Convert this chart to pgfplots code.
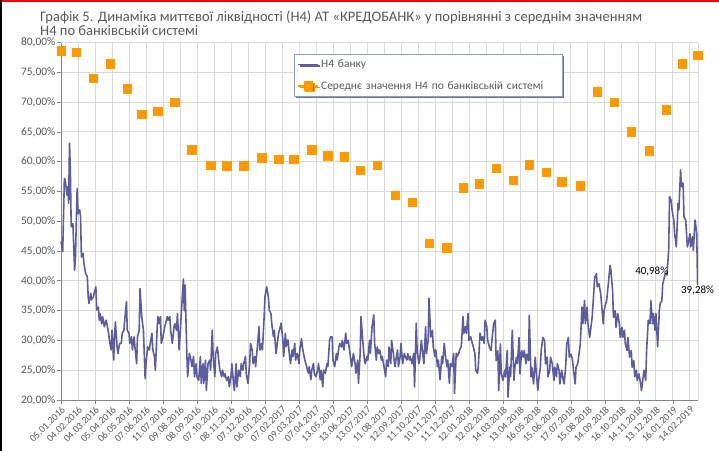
\documentclass[border=0pt]{standalone}
\usepackage{fontspec}
\setmainfont{Carlito}
\usepackage{pgfplots}
\pgfplotsset{compat=1.18}
\usetikzlibrary{shadows}

\definecolor{bankline}{RGB}{93,93,158}
\definecolor{orng}{RGB}{255,153,0}
\definecolor{gridcol}{RGB}{217,217,217}
\definecolor{axcol}{RGB}{134,134,134}
\definecolor{txtgray}{RGB}{89,89,89}
\definecolor{legborder}{RGB}{140,160,200}

\begin{document}
\begin{tikzpicture}
\useasboundingbox (0,0) rectangle (719bp,451bp);
\fill[white] (0,0) rectangle (719bp,451bp);
\fill[red] (0,448.7bp) rectangle (719bp,451bp);
\fill[black] (0,0) rectangle (1.7bp,451bp);
\node[anchor=west, inner sep=0, text=txtgray, font=\fontsize{14.6}{16}\selectfont] at (40bp,434bp)
  {Графік 5. Динаміка миттєвої ліквідності (Н4) АТ «КРЕДОБАНК» у порівнянні з середнім значенням};
\node[anchor=west, inner sep=0, text=txtgray, font=\fontsize{14.6}{16}\selectfont] at (40bp,420bp)
  {Н4 по банківській системі};

\begin{axis}[
  at={(61bp,51bp)}, anchor=south west,
  scale only axis, width=637bp, height=357.5bp,
  xmin=0, xmax=749.5, ymin=20, ymax=80,
  clip=false,
  axis x line*=bottom, axis y line*=left,
  axis line style={draw=axcol, line width=0.75bp},
  grid=major, major grid style={draw=gridcol, line width=0.9bp},
  tick align=outside, major tick length=4bp,
  ytick={20,25,...,80},
  yticklabels={{20,00\%},{25,00\%},{30,00\%},{35,00\%},{40,00\%},{45,00\%},{50,00\%},{55,00\%},{60,00\%},{65,00\%},{70,00\%},{75,00\%},{80,00\%}},
  ytick style={draw=axcol, line width=0.75bp},
  yticklabel style={font=\fontsize{11.5}{13}\selectfont, text=txtgray, inner sep=1.5bp},
  xtick={0,20,...,740},
  xticklabels={05.01.2016,04.02.2016,04.03.2016,05.04.2016,06.05.2016,07.06.2016,11.07.2016,09.08.2016,08.09.2016,07.10.2016,08.11.2016,07.12.2016,06.01.2017,07.02.2017,09.03.2017,07.04.2017,13.05.2017,13.06.2017,13.07.2017,11.08.2017,12.09.2017,11.10.2017,10.11.2017,11.12.2017,12.01.2018,12.02.2018,14.03.2018,13.04.2018,16.05.2018,15.06.2018,17.07.2018,15.08.2018,14.09.2018,16.10.2018,14.11.2018,13.12.2018,16.01.2019,14.02.2019},
  xtick style={draw=none},
  xticklabel style={rotate=45, anchor=north east, font=\fontsize{10}{11}\selectfont, text=txtgray, inner sep=1bp},
  extra x ticks={0,40,...,720},
  extra x tick labels={},
  extra x tick style={grid=none, xtick style={draw=axcol, line width=0.75bp}},
  legend cell align=left,
  legend style={at={(0.366,0.969)}, anchor=north west, draw=legborder, line width=0.9bp, fill=white,
    font=\fontsize{11.5}{13}\selectfont, text=txtgray, row sep=8bp, inner xsep=3bp, inner ysep=4bp,
    nodes={text width=236bp},
    drop shadow={shadow xshift=1.5bp, shadow yshift=-1.5bp, fill=black!55, opacity=1}},
]

% Н4 банку (daily)
\addplot[color=bankline, line width=1.6bp, line join=round,
  legend image code/.code={\draw[bankline, line width=1.6bp] (0bp,0bp) -- (20bp,0bp);}] coordinates {
(0,46.6)(2,44.9)(4,57.2)(5,56.9)(7,54.4)(8,55.8)(9,53.0)(10,63.1)(11,58.6)(12,49.1)(14,49.6)(16,41.8)(17,44.0)(19,55.5)(20,51.3)(22,51.9)(23,50.8)(24,44.0)(26,44.6)(27,42.9)(29,41.2)(31,40.7)(32,37.3)(33,36.2)(35,37.9)(36,36.8)(38,37.3)(39,37.9)(41,39.0)(42,35.1)(44,35.6)(45,33.4)(46,34.5)(48,32.8)(49,34.0)(51,32.3)(53,33.4)(54,32.8)(56,31.2)(57,30.0)(59,28.4)(60,31.7)(62,26.7)(63,30.6)(64,33.1)(66,28.9)(67,27.8)(69,29.5)(71,29.5)(72,31.2)(74,31.7)(75,33.4)(77,36.5)(78,31.7)(80,31.2)(81,29.5)(83,30.6)(84,28.4)(86,30.6)(87,28.9)(89,26.1)(90,30.6)(92,31.7)(93,38.7)(95,34.0)(96,32.8)(97,31.7)(99,23.6)(100,26.1)(102,28.9)(104,28.4)(105,29.5)(107,31.2)(108,28.4)(110,27.3)(111,25.0)(113,31.7)(114,34.0)(115,32.8)(117,34.0)(118,29.5)(120,30.6)(122,32.3)(123,32.8)(125,34.0)(126,33.4)(128,34.0)(129,31.7)(131,29.5)(133,32.3)(134,32.8)(136,31.7)(137,34.5)(139,28.4)(140,30.6)(142,35.6)(144,40.3)(145,35.0)(146,39.3)(148,28.0)(149,23.9)(151,27.8)(153,26.7)(154,25.6)(156,27.3)(157,23.9)(159,26.1)(160,23.9)(162,23.3)(164,27.3)(165,22.8)(167,26.1)(168,22.8)(170,26.7)(171,21.6)(173,26.1)(175,26.7)(176,25.0)(178,31.7)(179,27.3)(181,23.9)(182,27.8)(184,28.9)(186,26.1)(187,25.0)(189,23.9)(190,25.0)(192,23.9)(193,24.4)(195,23.3)(197,23.9)(198,22.2)(200,23.9)(201,26.1)(203,22.8)(204,21.6)(206,26.1)(207,22.2)(209,25.0)(211,23.9)(212,26.1)(214,25.0)(215,26.1)(217,27.3)(218,24.4)(220,22.8)(222,26.1)(223,29.5)(225,28.4)(226,26.1)(228,27.3)(229,25.6)(231,28.9)(233,32.3)(234,28.4)(236,29.5)(237,28.4)(239,34.0)(240,37.3)(242,39.0)(244,37.3)(245,35.1)(247,34.5)(248,32.8)(250,30.6)(251,31.7)
(253,27.8)(254,28.9)(256,31.2)(258,32.3)(259,32.9)(261,30.1)(262,27.3)(264,31.2)(265,29.0)(267,30.1)(269,27.3)(270,26.1)(272,28.4)(273,27.3)(275,29.5)(276,26.7)(278,27.8)(280,26.1)(281,28.4)(283,30.3)(284,28.9)(286,27.3)(287,26.7)(289,25.6)(291,24.5)(292,25.6)(294,23.4)(295,25.0)(297,26.1)(298,24.5)(300,23.9)(302,25.0)(303,26.1)(305,23.4)(306,25.0)(308,22.2)(309,25.0)(311,24.5)(313,26.1)(314,25.6)(316,30.0)(317,30.6)(319,30.6)(320,26.7)(322,25.6)(324,27.8)(325,26.7)(327,28.9)(328,29.5)(330,28.9)(331,30.0)(333,28.4)(335,31.2)(336,29.5)(338,30.0)(339,28.9)(341,26.7)(342,25.6)(344,27.8)(346,26.1)(347,24.5)(349,26.7)(350,22.8)(352,27.8)(353,34.0)(355,30.0)(357,26.7)(358,26.1)(360,27.3)(361,26.7)(363,30.0)(364,27.8)(366,32.3)(368,34.3)(369,29.5)(371,26.7)(372,28.9)(374,27.8)(375,28.4)(377,26.7)(378,27.3)(380,25.6)(382,23.9)(383,26.7)(385,25.6)(386,28.9)(388,26.1)(389,30.0)(391,27.8)(393,25.6)(394,26.7)(396,28.4)(397,25.6)(399,27.3)(400,29.5)(402,26.1)(404,27.8)(405,27.3)(407,26.7)(408,27.8)(410,26.7)(411,27.3)(413,26.1)(415,27.8)(416,22.2)(418,32.9)(419,28.4)(421,26.1)(422,26.7)(424,30.0)(426,27.3)(427,26.1)(429,32.3)(430,27.8)(432,30.0)(433,37.1)(435,30.6)(437,31.7)(438,28.9)(440,27.3)(441,28.4)(443,25.6)(444,26.7)(446,23.4)(448,27.3)(449,26.1)(451,29.5)(452,27.8)(454,25.6)(455,26.7)(457,22.8)(458,26.1)(460,25.6)(462,27.8)(463,21.1)(465,27.8)(466,27.3)(468,27.8)(469,28.4)(471,29.0)(473,34.0)(474,31.2)(476,32.3)(477,31.2)(479,34.5)(480,30.0)(482,30.6)(484,29.5)(485,29.0)(487,27.8)(488,25.0)(490,24.5)(491,25.6)(493,31.2)(495,30.0)(496,30.6)(498,29.5)(499,33.4)(501,32.3)(502,30.0)(504,28.9)
(506,28.3)(507,30.0)(509,32.8)(511,33.4)(512,26.6)(514,28.3)(515,21.6)(517,29.4)(518,24.4)(520,23.3)(522,25.0)(523,23.9)(525,28.3)(526,20.5)(528,25.5)(529,23.9)(531,31.7)(533,23.3)(534,25.5)(536,27.2)(537,26.1)(539,30.5)(540,24.4)(542,28.3)(544,27.2)(545,28.3)(547,26.1)(548,27.7)(550,26.6)(551,34.2)(553,23.9)(554,25.5)(556,22.7)(558,27.2)(559,25.0)(561,21.6)(562,23.3)(564,25.5)(565,28.3)(567,30.5)(569,30.0)(570,26.1)(572,27.2)(573,23.9)(575,25.0)(576,27.2)(578,26.1)(580,23.3)(581,25.5)(583,23.9)(584,26.1)(586,25.0)(587,22.7)(589,25.0)(591,23.3)(592,22.7)(594,26.1)(595,29.4)(597,30.5)(598,27.2)(600,27.7)(602,26.6)(603,25.0)(605,22.7)(606,25.5)(608,26.1)(609,27.2)(611,29.4)(613,35.6)(614,32.8)(616,36.7)(617,32.8)(619,35.6)(620,32.8)(622,30.5)(624,32.8)(625,33.9)(627,38.4)(628,40.6)(630,41.2)(631,39.0)(633,39.5)(635,37.8)(636,36.2)(638,32.8)(639,35.0)(641,36.2)(642,36.7)(644,39.5)(646,42.6)(647,41.8)(649,38.4)(650,33.9)(652,35.0)(653,32.2)(655,34.5)(657,32.8)(658,30.5)(660,32.2)(661,30.5)(663,31.7)(664,29.4)(666,28.3)(667,30.5)(669,27.2)(671,28.3)(672,25.5)(674,26.6)(675,23.9)(677,25.0)(678,23.3)(680,24.4)(682,22.7)(683,21.6)(685,23.9)(686,25.0)(688,23.3)(689,28.3)(691,33.4)(693,32.8)(694,36.7)(696,32.8)(697,34.5)(699,31.7)(700,34.5)(702,28.9)(704,35.0)(705,36.2)(707,36.7)(708,39.5)(710,40.6)(711,41.2)(713,40.98)(715,45.2)(716,54.1)(718,53.5)(719,51.9)(721,50.2)(722,47.9)(724,45.7)(726,53.0)(727,51.9)(729,58.6)(730,55.8)(732,56.4)(733,50.7)(735,50.2)(737,45.7)(738,46.3)(740,47.9)(741,45.7)(743,47.4)(744,45.1)(746,50.2)(747,49.1)(748,47.9)(749,39.28)
};
\addlegendentry{Н4 банку}

% Середнє значення Н4 по банківській системі (monthly)
\addplot[only marks, mark=square*, mark size=4.3bp, color=orng,
  legend image code/.code={\draw[orng, line width=1.6bp] (0bp,0bp) -- (20bp,0bp);
    \fill[orng] (5.7bp,-4.3bp) rectangle (14.3bp,4.3bp);}] coordinates {
(0,78.6)(18,78.4)(38,74.0)(58,76.4)(78,72.2)(95,68.0)(114,68.5)(134,70.0)(154,62.0)(176,59.4)(195,59.3)(215,59.3)(236,60.7)(256,60.4)(274,60.4)(295,62.0)(314,61.0)(333,60.8)(352,58.6)(372,59.4)(393,54.4)(413,53.2)(433,46.3)(454,45.6)(473,55.6)(492,56.3)(512,58.9)(532,56.9)(551,59.5)(571,58.2)(589,56.6)(611,56.0)(631,71.7)(651,70.0)(671,65.0)(692,61.8)(712,68.7)(731,76.4)(749,77.9)
};
\addlegendentry{Середнє значення Н4 по банківській системі}

\draw[gridcol, line width=0.9bp] (rel axis cs:1,0) -- (rel axis cs:1,1);
\node[font=\fontsize{11}{13}\selectfont, text=black] at (axis cs:695,41.6) {40,98\%};
\node[font=\fontsize{11}{13}\selectfont, text=black] at (axis cs:749,38.4) {39,28\%};
\end{axis}
\end{tikzpicture}
\end{document}
